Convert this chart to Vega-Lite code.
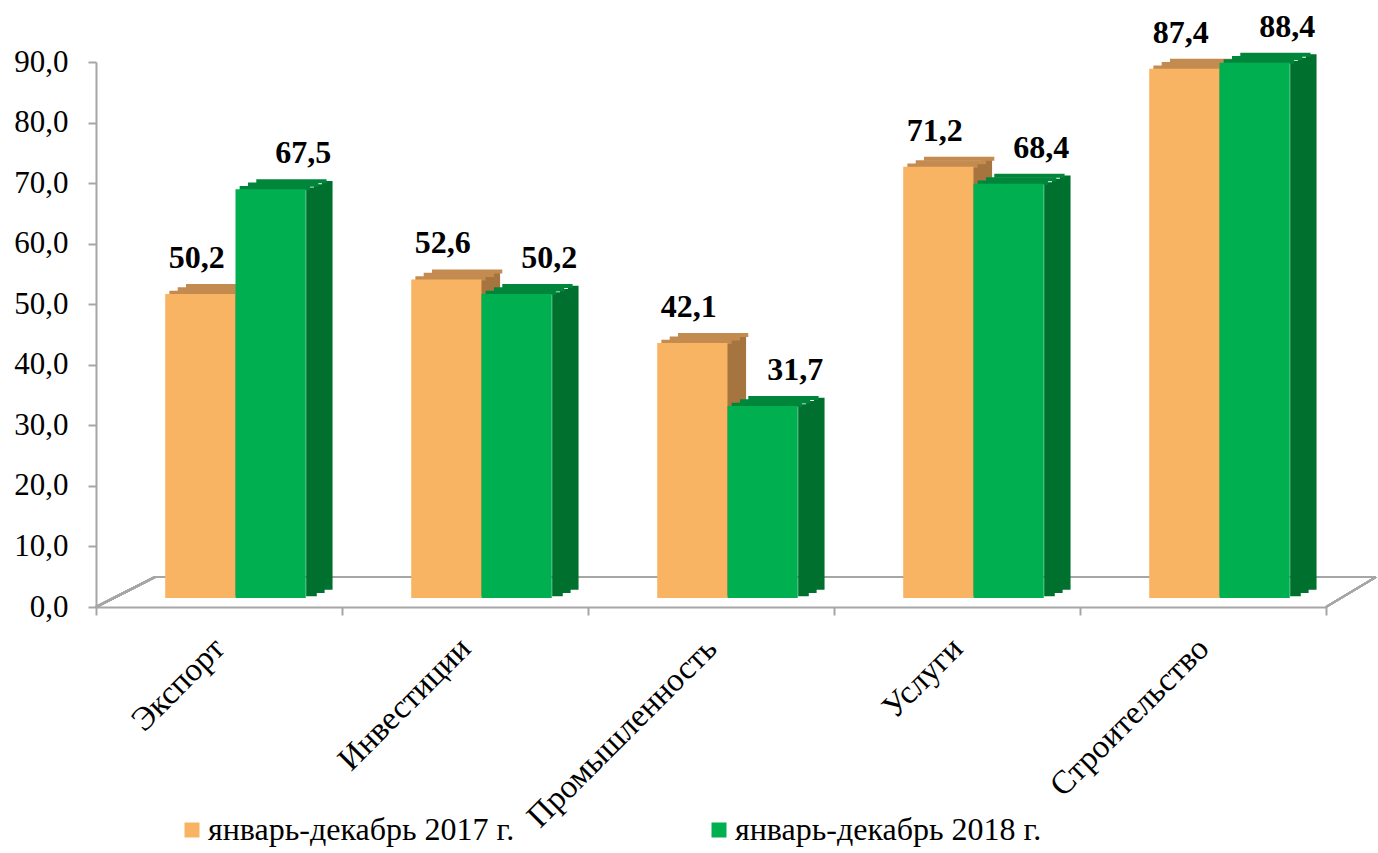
{
  "$schema": "https://vega.github.io/schema/vega-lite/v6.json",
  "autosize": {"type": "none"},
  "padding": {"left": 96, "top": 62, "right": 52, "bottom": 246},
  "width": 1230,
  "height": 545,
  "config": {
    "view": {"stroke": null},
    "locale": {"number": {"decimal": ",", "thousands": " ", "grouping": [3], "currency": ["", ""]}},
    "font": "Liberation Serif"
  },
  "data": {"values": [
    {"cat": "Экспорт", "series": "январь-декабрь 2017 г.", "value": 50.2},
    {"cat": "Экспорт", "series": "январь-декабрь 2018 г.", "value": 67.5},
    {"cat": "Инвестиции", "series": "январь-декабрь 2017 г.", "value": 52.6},
    {"cat": "Инвестиции", "series": "январь-декабрь 2018 г.", "value": 50.2},
    {"cat": "Промышленность", "series": "январь-декабрь 2017 г.", "value": 42.1},
    {"cat": "Промышленность", "series": "январь-декабрь 2018 г.", "value": 31.7},
    {"cat": "Услуги", "series": "январь-декабрь 2017 г.", "value": 71.2},
    {"cat": "Услуги", "series": "январь-декабрь 2018 г.", "value": 68.4},
    {"cat": "Строительство", "series": "январь-декабрь 2017 г.", "value": 87.4},
    {"cat": "Строительство", "series": "январь-декабрь 2018 г.", "value": 88.4}
  ]},
  "resolve": {"scale": {"xOffset": "independent"}},
  "layer": [
    {
      "mark": {"type": "rule", "color": "#A6A6A6", "strokeWidth": 2, "xOffset": 59, "x2Offset": 50, "yOffset": -30},
      "encoding": {
        "x": {"datum": "Экспорт", "type": "nominal", "bandPosition": 0},
        "x2": {"datum": "Строительство", "bandPosition": 1},
        "y": {"datum": 0, "type": "quantitative"}
      }
    },
    {
      "mark": {"type": "rule", "color": "#A6A6A6", "strokeWidth": 2, "x2Offset": 59, "y2Offset": -30},
      "encoding": {
        "x": {"datum": "Экспорт", "type": "nominal", "bandPosition": 0},
        "x2": {"datum": "Экспорт", "bandPosition": 0},
        "y": {"datum": 0, "type": "quantitative"},
        "y2": {"datum": 0}
      }
    },
    {
      "mark": {"type": "rule", "color": "#A6A6A6", "strokeWidth": 2, "x2Offset": 50, "y2Offset": -30},
      "encoding": {
        "x": {"datum": "Строительство", "type": "nominal", "bandPosition": 1},
        "x2": {"datum": "Строительство", "bandPosition": 1},
        "y": {"datum": 0, "type": "quantitative"},
        "y2": {"datum": 0}
      }
    },
    {
      "mark": {"type": "bar", "yOffset": -10.67, "y2Offset": -10.67},
      "encoding": {
        "x": {"field": "cat", "type": "nominal", "sort": null},
        "xOffset": {"field": "series", "type": "nominal", "sort": null, "scale": {"paddingInner": 0.8648, "paddingOuter": 1.1823, "align": 0.8393}},
        "y": {"field": "value", "type": "quantitative"},
        "color": {"condition": {"test": "datum.series === 'январь-декабрь 2017 г.'", "value": "#A6743F"}, "value": "#00702F"}
      }
    },
    {
      "mark": {"type": "bar", "yOffset": -14, "y2Offset": -14},
      "encoding": {
        "x": {"field": "cat", "type": "nominal", "sort": null},
        "xOffset": {"field": "series", "type": "nominal", "sort": null, "scale": {"paddingInner": 0.8648, "paddingOuter": 1.1823, "align": 0.8892}},
        "y": {"field": "value", "type": "quantitative"},
        "color": {"condition": {"test": "datum.series === 'январь-декабрь 2017 г.'", "value": "#A6743F"}, "value": "#00702F"}
      }
    },
    {
      "mark": {"type": "bar", "yOffset": -17.33, "y2Offset": -17.33},
      "encoding": {
        "x": {"field": "cat", "type": "nominal", "sort": null},
        "xOffset": {"field": "series", "type": "nominal", "sort": null, "scale": {"paddingInner": 0.8648, "paddingOuter": 1.1823, "align": 0.9398}},
        "y": {"field": "value", "type": "quantitative"},
        "color": {"condition": {"test": "datum.series === 'январь-декабрь 2017 г.'", "value": "#A6743F"}, "value": "#00702F"}
      }
    },
    {
      "mark": {"type": "bar", "yOffset": -19, "y2Offset": -15},
      "encoding": {
        "x": {"field": "cat", "type": "nominal", "sort": null},
        "xOffset": {"field": "series", "type": "nominal", "sort": null, "scale": {"paddingInner": 0, "paddingOuter": 0.75, "align": 0.8537}},
        "y": {"field": "value", "type": "quantitative"},
        "y2": {"field": "value"},
        "color": {"condition": {"test": "datum.series === 'январь-декабрь 2017 г.'", "value": "#C48B50"}, "value": "#00863B"}
      }
    },
    {
      "mark": {"type": "bar", "yOffset": -15.67, "y2Offset": -11.5},
      "encoding": {
        "x": {"field": "cat", "type": "nominal", "sort": null},
        "xOffset": {"field": "series", "type": "nominal", "sort": null, "scale": {"paddingInner": 0, "paddingOuter": 0.75, "align": 0.7749}},
        "y": {"field": "value", "type": "quantitative"},
        "y2": {"field": "value"},
        "color": {"condition": {"test": "datum.series === 'январь-декабрь 2017 г.'", "value": "#C48B50"}, "value": "#00863B"}
      }
    },
    {
      "mark": {"type": "bar", "yOffset": -12.33, "y2Offset": -8},
      "encoding": {
        "x": {"field": "cat", "type": "nominal", "sort": null},
        "xOffset": {"field": "series", "type": "nominal", "sort": null, "scale": {"paddingInner": 0, "paddingOuter": 0.75, "align": 0.6959}},
        "y": {"field": "value", "type": "quantitative"},
        "y2": {"field": "value"},
        "color": {"condition": {"test": "datum.series === 'январь-декабрь 2017 г.'", "value": "#C48B50"}, "value": "#00863B"}
      }
    },
    {
      "mark": {"type": "bar", "yOffset": -9, "y2Offset": -9},
      "encoding": {
        "x": {
          "field": "cat", "type": "nominal", "sort": null,
          "scale": {"domain": ["Экспорт", "Инвестиции", "Промышленность", "Услуги", "Строительство"], "paddingInner": 0, "paddingOuter": 0},
          "axis": {
            "title": null,
            "domainColor": "#A6A6A6", "domainWidth": 2,
            "tickColor": "#A6A6A6", "tickWidth": 2, "tickSize": 8,
            "tickBand": "extent",
            "labelAngle": -45, "labelLimit": 0,
            "labelFont": "Liberation Serif", "labelFontSize": 33, "labelColor": "#000000",
            "labelPadding": 28, "labelOffset": 0
          }
        },
        "xOffset": {"field": "series", "type": "nominal", "sort": null, "scale": {"paddingInner": 0, "paddingOuter": 0.75, "align": 0.6564}},
        "y": {
          "field": "value", "type": "quantitative",
          "scale": {"domain": [0, 90], "nice": false},
          "axis": {
            "title": null, "values": [0, 10, 20, 30, 40, 50, 60, 70, 80, 90], "format": ".1f",
            "grid": false,
            "domainColor": "#A6A6A6", "domainWidth": 2,
            "tickColor": "#A6A6A6", "tickWidth": 2, "tickSize": 8,
            "labelFont": "Liberation Serif", "labelFontSize": 31, "labelColor": "#000000",
            "labelPadding": 20
          }
        },
        "color": {
          "field": "series", "type": "nominal", "sort": null,
          "scale": {"domain": ["январь-декабрь 2017 г.", "январь-декабрь 2018 г."], "range": ["#F8B462", "#00B050"]},
          "legend": {
            "title": null, "orient": "none", "legendX": 80, "legendY": 752,
            "direction": "horizontal", "symbolType": "square", "symbolSize": 225,
            "symbolStrokeWidth": 0,
            "labelFont": "Liberation Serif", "labelFontSize": 32, "labelColor": "#000000",
            "labelOffset": 0, "columnPadding": 188, "labelLimit": 0, "padding": 0
          }
        }
      }
    },
    {
      "transform": [{"filter": "datum.series === 'январь-декабрь 2017 г.'"}],
      "mark": {"type": "text", "font": "Liberation Serif", "fontWeight": "bold", "fontSize": 32, "color": "#000000", "dx": 27, "dy": -35, "baseline": "alphabetic"},
      "encoding": {
        "x": {"field": "cat", "type": "nominal", "sort": null},
        "xOffset": {"field": "series", "type": "nominal", "sort": null, "scale": {"domain": ["январь-декабрь 2017 г.", "январь-декабрь 2018 г."], "paddingInner": 0, "paddingOuter": 0.75}},
        "y": {"field": "value", "type": "quantitative"},
        "text": {"field": "value", "type": "quantitative", "format": ".1f"}
      }
    },
    {
      "transform": [{"filter": "datum.series === 'январь-декабрь 2018 г.'"}],
      "mark": {"type": "text", "font": "Liberation Serif", "fontWeight": "bold", "fontSize": 32, "color": "#000000", "dx": 35, "dy": -35, "baseline": "alphabetic"},
      "encoding": {
        "x": {"field": "cat", "type": "nominal", "sort": null},
        "xOffset": {"field": "series", "type": "nominal", "sort": null, "scale": {"domain": ["январь-декабрь 2017 г.", "январь-декабрь 2018 г."], "paddingInner": 0, "paddingOuter": 0.75}},
        "y": {"field": "value", "type": "quantitative"},
        "text": {"field": "value", "type": "quantitative", "format": ".1f"}
      }
    }
  ]
}
